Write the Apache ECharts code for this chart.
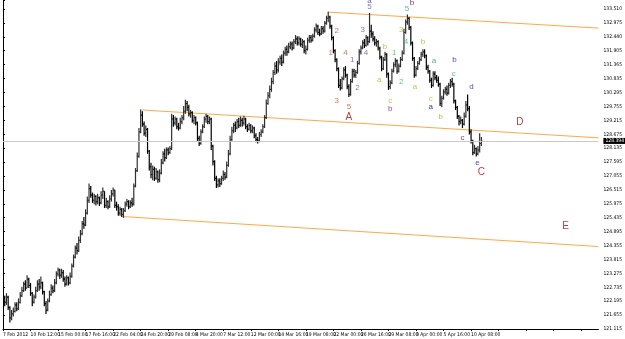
<!DOCTYPE html>
<html>
<head>
<meta charset="utf-8">
<script src="https://cdn.jsdelivr.net/npm/echarts@6/dist/echarts.min.js"></script>
<style>
  html, body { margin: 0; padding: 0; background: #fff; }
  #chart { width: 625px; height: 339px; }
</style>
</head>
<body>
<div id="chart"></div>
<script>
// H4 bars, one tick label every 16 bars
var dateLabels = ['7 Feb 2012', '10 Feb 12:00', '15 Feb 00:00', '17 Feb 16:00', '22 Feb 04:00',
  '24 Feb 20:00', '29 Feb 08:00', '4 Mar 20:00', '7 Mar 12:00', '12 Mar 00:00', '14 Mar 16:00',
  '19 Mar 08:00', '22 Mar 00:00', '26 Mar 16:00', '29 Mar 08:00', '3 Apr 00:00', '5 Apr 16:00',
  '10 Apr 08:00'];

// price scale labels, bottom to top
var priceLabels = ['121.115', '121.655', '122.195', '122.735', '123.275', '123.815', '124.355',
  '124.895', '125.435', '125.975', '126.515', '127.055', '127.595', '128.135', '128.675',
  '129.215', '129.755', '130.295', '130.835', '131.365', '131.905', '132.440', '132.975', '133.510'];

var firstOpen = 122.45;
// [close, low, high], open = previous close
var bars = [
  [122.30,122.10,122.64],[122.15,122.00,122.40],[122.35,122.05,122.50],[121.95,121.85,122.40],
  [121.55,121.37,122.00],[121.70,121.45,121.85],[121.80,121.60,121.95],[122.05,121.75,122.15],
  [121.90,121.80,122.15],[122.15,121.85,122.30],[122.40,122.10,122.55],[122.60,122.35,122.75],
  [122.85,122.55,122.95],[122.70,122.60,123.00],[123.05,122.70,123.20],[122.80,122.70,123.10],
  [122.50,122.40,122.90],[122.15,122.00,122.55],[122.35,122.10,122.45],[122.60,122.30,122.75],
  [122.85,122.55,123.00],[122.75,122.60,123.05],[122.90,122.65,123.15],[122.55,122.45,122.95],
  [122.10,122.00,122.60],[121.85,121.70,122.20],[122.20,121.80,122.30],[122.45,122.15,122.60],
  [122.70,122.40,122.85],[122.60,122.50,122.80],[122.90,122.55,123.05],[123.25,122.85,123.35],
  [123.40,123.15,123.50],[123.20,123.05,123.45],[123.30,123.10,123.45],[123.05,122.95,123.40],
  [122.85,122.75,123.15],[123.10,122.80,123.20],[122.90,122.80,123.15],[123.15,122.85,123.30],
  [123.55,123.10,123.65],[123.90,123.50,124.00],[124.25,123.85,124.35],[124.15,124.00,124.45],
  [124.55,124.10,124.70],[124.80,124.45,124.95],[125.20,124.75,125.30],[125.15,125.00,125.45],
  [125.60,125.10,125.75],[126.10,125.55,126.25],[126.55,126.00,126.75],[126.30,126.20,126.65],
  [126.10,126.00,126.40],[126.25,125.95,126.35],[126.05,125.90,126.30],[126.20,125.95,126.35],
  [126.00,125.88,126.25],[126.30,125.95,126.45],[126.45,126.15,126.60],[125.90,125.80,126.45],
  [126.05,125.80,126.20],[125.85,125.75,126.10],[126.15,125.80,126.30],[126.35,126.05,126.50],
  [126.50,126.25,126.60],[125.90,125.80,126.50],[125.85,125.70,126.05],[125.60,125.50,125.95],
  [125.75,125.50,125.85],[125.55,125.45,125.80],[125.70,125.42,125.80],[125.95,125.65,126.05],
  [126.05,125.85,126.15],[125.85,125.75,126.10],[126.00,125.80,126.10],[125.95,125.85,126.20],
  [126.65,125.90,126.75],[127.25,126.60,127.35],[127.80,127.20,127.95],[128.75,127.75,128.90],
  [129.40,128.70,129.62],[129.05,128.95,129.55],[128.70,128.60,129.15],[128.85,128.55,129.00],
  [128.00,127.90,128.90],[127.40,127.25,128.05],[127.10,126.95,127.55],[127.30,126.88,127.45],
  [126.95,126.85,127.40],[127.20,126.90,127.35],[126.90,126.78,127.25],[127.15,126.80,127.30],
  [127.55,127.10,127.70],[127.90,127.50,128.00],[127.75,127.60,128.10],[128.05,127.70,128.15],
  [127.95,127.85,128.15],[128.10,127.90,128.20],[129.25,128.05,129.45],[129.10,128.95,129.40],
  [129.25,129.00,129.35],[128.95,128.85,129.30],[128.90,128.80,129.10],[129.15,128.85,129.30],
  [129.30,129.05,129.40],[129.55,129.20,129.75],[129.85,129.45,130.00],[129.70,129.55,129.95],
  [129.45,129.35,129.80],[129.50,129.30,129.60],[129.20,129.10,129.55],[129.30,129.05,129.40],
  [129.10,129.00,129.35],[128.50,128.40,129.15],[128.30,128.20,128.60],[128.75,128.25,128.85],
  [128.95,128.70,129.05],[129.25,128.90,129.35],[129.35,129.10,129.45],[129.15,129.05,129.40],
  [129.25,129.05,129.35],[128.20,128.05,129.30],[127.60,127.45,128.25],[126.95,126.85,127.65],
  [126.70,126.58,127.05],[126.85,126.60,126.95],[126.75,126.62,126.95],[126.95,126.70,127.05],
  [127.10,126.85,127.25],[127.00,126.90,127.20],[127.45,126.95,127.60],[127.90,127.40,128.05],
  [128.45,127.85,128.60],[128.80,128.40,128.95],[129.00,128.70,129.10],[128.90,128.75,129.15],
  [129.15,128.85,129.25],[129.00,128.90,129.30],[129.20,128.95,129.35],[129.10,128.95,129.30],
  [129.25,129.00,129.38],[128.95,128.85,129.30],[128.85,128.75,129.05],[129.00,128.80,129.10],
  [128.80,128.70,129.05],[128.90,128.70,129.00],[128.60,128.50,128.95],[128.45,128.35,128.70],
  [128.40,128.30,128.55],[128.65,128.35,128.75],[128.75,128.55,128.85],[128.95,128.70,129.05],
  [129.30,128.90,129.40],[129.85,129.25,130.00],[130.15,129.80,130.30],[130.40,130.05,130.55],
  [130.70,130.30,130.85],[131.05,130.60,131.15],[131.30,130.95,131.45],[131.15,131.00,131.50],
  [131.45,131.05,131.60],[131.60,131.35,131.70],[131.45,131.30,131.75],[131.80,131.40,131.90],
  [131.95,131.70,132.05],[131.85,131.70,132.10],[132.05,131.80,132.20],[132.15,131.95,132.25],
  [132.00,131.90,132.25],[132.25,131.95,132.35],[132.35,132.15,132.50],[132.20,132.10,132.45],
  [132.35,132.10,132.45],[132.15,132.05,132.40],[132.25,132.00,132.35],[131.90,131.80,132.30],
  [131.95,131.75,132.10],[132.30,131.90,132.40],[132.40,132.20,132.50],[132.30,132.20,132.50],
  [132.45,132.25,132.55],[132.70,132.40,132.80],[132.85,132.60,132.95],[132.60,132.50,132.90],
  [132.55,132.45,132.75],[132.75,132.50,132.85],[132.65,132.55,132.85],[132.95,132.60,133.05],
  [133.15,132.90,133.25],[133.20,133.00,133.40],[132.85,132.75,133.25],[132.40,132.30,132.90],
  [131.90,131.80,132.45],[131.55,131.45,131.95],[131.20,131.10,131.60],[130.55,130.45,131.25],
  [130.45,130.35,130.80],[130.80,130.40,130.90],[131.15,130.75,131.25],[130.95,130.85,131.30],
  [130.50,130.40,131.00],[130.20,130.10,130.60],[130.70,130.15,130.80],[131.10,130.65,131.20],
  [130.95,130.85,131.20],[131.05,130.85,131.15],[131.40,131.00,131.50],[131.85,131.35,131.95],
  [132.00,131.75,132.10],[132.20,131.95,132.30],[132.10,132.00,132.35],[132.40,132.05,132.50],
  [132.25,132.10,132.45],[132.65,132.20,133.36],[132.55,132.40,132.90],[132.35,132.25,132.65],
  [132.20,132.10,132.45],[132.25,132.05,132.35],[132.00,131.90,132.30],[131.65,131.55,132.05],
  [131.20,131.10,131.70],[131.55,131.15,131.65],[131.75,131.50,131.85],[131.00,130.85,131.80],
  [130.50,130.38,131.05],[130.65,130.40,130.75],[131.10,130.60,131.20],[131.35,131.05,131.45],
  [131.50,131.25,131.60],[131.10,131.00,131.55],[131.30,131.05,131.40],[131.55,131.25,131.65],
  [131.80,131.50,131.90],[132.60,131.75,132.75],[133.00,132.55,133.10],[133.15,132.90,133.30],
  [132.80,132.70,133.20],[132.20,132.10,132.85],[131.60,131.50,132.25],[130.95,130.85,131.65],
  [131.20,130.90,131.30],[131.40,131.15,131.50],[131.55,131.35,131.65],[131.75,131.50,131.85],
  [131.85,131.65,131.95],[131.70,131.60,131.95],[131.25,131.15,131.75],[131.10,131.00,131.35],
  [130.75,130.65,131.15],[130.55,130.45,130.85],[131.00,130.50,131.10],[130.85,130.75,131.10],
  [130.75,130.65,130.95],[130.60,130.50,130.90],[129.85,129.75,130.65],[130.05,129.70,130.15],
  [130.30,130.00,130.40],[130.40,130.20,130.50],[130.25,130.15,130.55],[130.55,130.20,130.65],
  [130.70,130.45,130.80],[130.60,130.50,130.85],[129.95,129.85,130.65],[129.70,129.60,130.00],
  [129.35,129.25,129.75],[129.15,129.00,129.40],[129.20,129.05,129.35],[129.05,128.90,129.25],
  [129.35,129.00,129.50],[129.80,129.30,129.95],[129.65,129.55,130.20],[128.75,128.65,129.75],
  [128.40,128.30,128.85],[127.95,127.85,128.45],[128.10,127.90,128.25],[127.90,127.80,128.15],
  [128.05,127.85,128.20],[128.30,127.95,128.70],[128.40,128.20,128.55]
];

var bidPrice = 128.40;
var bidText = '128.394';

// channel lines: [[barIndex, price], [barIndex, price]]
var channelLines = [
  [[188.8, 133.39], [346, 132.77]],
  [[80.6, 129.60], [346, 128.52]],
  [[69.6, 125.47], [346, 124.31]]
];

// wave labels: [barIndex, price, text, colour, fontSize]
var waveLabels = [
  [190.5, 131.81, '1', '#c0582c', 8], [194, 132.66, '2', '#c0582c', 8],
  [194, 129.95, '3', '#c0582c', 8], [199, 131.81, '4', '#c0582c', 8],
  [201, 129.72, '5', '#c0582c', 8], [201, 129.30, 'A', '#a01010', 10],
  [203, 131.54, '1', '#5a5ab4', 8], [206, 130.45, '2', '#5a5ab4', 8],
  [209, 132.70, '3', '#5a5ab4', 8], [211, 131.81, '4', '#5a5ab4', 8],
  [213, 133.59, '5', '#5a5ab4', 8], [213, 133.84, 'a', '#6a2c7a', 8],
  [222, 132.04, 'b', '#d4a020', 8], [218.7, 130.76, 'a', '#d4a020', 8],
  [225, 129.95, 'c', '#d4a020', 8], [225, 129.64, 'b', '#8a10a0', 8],
  [227.3, 131.81, '1', '#3cb371', 8], [231.4, 130.69, '2', '#3cb371', 8],
  [231.4, 132.70, '3', '#8cbc30', 8], [234.2, 132.23, '4', '#20b2aa', 8],
  [234.8, 133.51, '5', '#20b2aa', 8], [237.7, 133.76, 'b', '#800050', 8],
  [244, 132.23, 'b', '#9aba30', 8], [239.4, 130.49, 'a', '#9aba30', 8],
  [250.4, 131.50, 'a', '#2e9a60', 8], [248.6, 130.03, 'c', '#c8c030', 8],
  [248.6, 129.72, 'a', '#00008b', 8], [254.4, 129.33, 'b', '#9aba30', 8],
  [262.4, 131.54, 'b', '#1a1a9a', 8], [261.9, 131.00, 'c', '#3cb371', 8],
  [272.2, 130.49, 'd', '#1a1aba', 8], [267, 128.52, 'c', '#1a1a9a', 8],
  [275.7, 127.55, 'e', '#1a1a9a', 8], [278, 127.17, 'C', '#a01010', 10],
  [300.4, 129.14, 'D', '#a01010', 10], [326.9, 125.08, 'E', '#a01010', 10]
];

var yMin = 121.115;
var yTop = 133.510;
var yStep = (yTop - yMin) / 23;
var yMax = 133.859;
var xLast = 346;
var smallFont = "'Liberation Sans Narrow', 'DejaVu Sans Condensed', sans-serif";

var ohlc = [];
var prevClose = firstOpen;
bars.forEach(function (b, i) {
  ohlc.push([i, prevClose, b[0], b[1], b[2]]);
  prevClose = b[0];
});

function renderBar(params, api) {
  var x = api.value(0);
  var o = api.value(1), c = api.value(2), l = api.value(3), h = api.value(4);
  var pH = api.coord([x, h]), pL = api.coord([x, l]);
  var pO = api.coord([x, o]), pC = api.coord([x, c]);
  var px = pH[0];
  var st = { stroke: c >= o ? '#303030' : '#000', lineWidth: 1.2 };
  return {
    type: 'group',
    children: [
      { type: 'line', shape: { x1: px, y1: pH[1], x2: px, y2: pL[1] }, style: st },
      { type: 'line', shape: { x1: px - 1, y1: pO[1], x2: px, y2: pO[1] }, style: st },
      { type: 'line', shape: { x1: px, y1: pC[1], x2: px + 1, y2: pC[1] }, style: st }
    ]
  };
}

var chart = echarts.init(document.getElementById('chart'));

var series = [{
  type: 'custom',
  renderItem: renderBar,
  data: ohlc,
  encode: { x: 0, y: [3, 4] },
  clip: true,
  z: 3
}, {
  type: 'line',
  data: [],
  silent: true,
  markLine: {
    silent: true,
    symbol: 'none',
    animation: false,
    lineStyle: { color: '#c8c8c8', width: 1, type: 'solid' },
    label: {
      position: 'end', distance: 5, formatter: bidText,
      backgroundColor: '#000', color: '#fff', fontSize: 5,
      fontFamily: smallFont, padding: [1, 2, 0, 2]
    },
    data: [{ yAxis: bidPrice }]
  },
  z: 1
}];

channelLines.forEach(function (seg) {
  series.push({
    type: 'line',
    data: seg,
    symbol: 'none',
    silent: true,
    lineStyle: { color: '#ffa848', width: 1 },
    z: 2
  });
});

series.push({
  type: 'scatter',
  symbolSize: 0,
  silent: true,
  data: waveLabels.map(function (w) {
    return {
      value: [w[0], w[1]],
      name: w[2],
      label: { color: w[3], fontSize: w[4] }
    };
  }),
  label: {
    show: true,
    position: 'inside',
    formatter: '{b}',
    fontFamily: 'Liberation Sans'
  },
  z: 4
});

chart.setOption({
  animation: false,
  backgroundColor: '#fff',
  grid: { left: 0, right: 24, top: 0, bottom: 10 },
  xAxis: {
    type: 'value',
    min: 0,
    max: xLast,
    interval: 16,
    axisLine: { show: true, onZero: false, lineStyle: { color: '#000', width: 1 } },
    axisTick: { show: true, length: 2, lineStyle: { color: '#000' } },
    splitLine: { show: false },
    axisLabel: {
      show: true,
      fontSize: 5,
      fontFamily: smallFont,
      color: '#000',
      align: 'left',
      margin: 3,
      showMinLabel: true,
      showMaxLabel: false,
      hideOverlap: false,
      formatter: function (v) {
        var k = Math.round(v / 16);
        return Math.abs(v - k * 16) < 0.01 ? (dateLabels[k] || '') : '';
      }
    }
  },
  yAxis: {
    type: 'value',
    position: 'right',
    min: yMin,
    max: yMax,
    interval: yStep,
    axisLine: { show: true, lineStyle: { color: '#000', width: 1 } },
    axisTick: { show: true, length: 2, lineStyle: { color: '#000' } },
    splitLine: { show: false },
    axisLabel: {
      fontSize: 5,
      fontFamily: smallFont,
      color: '#000',
      margin: 5,
      formatter: function (v) {
        var k = (v - yMin) / yStep;
        var r = Math.round(k);
        return Math.abs(k - r) < 0.05 ? (priceLabels[r] || '') : '';
      }
    }
  },
  series: series
});
</script>
</body>
</html>
